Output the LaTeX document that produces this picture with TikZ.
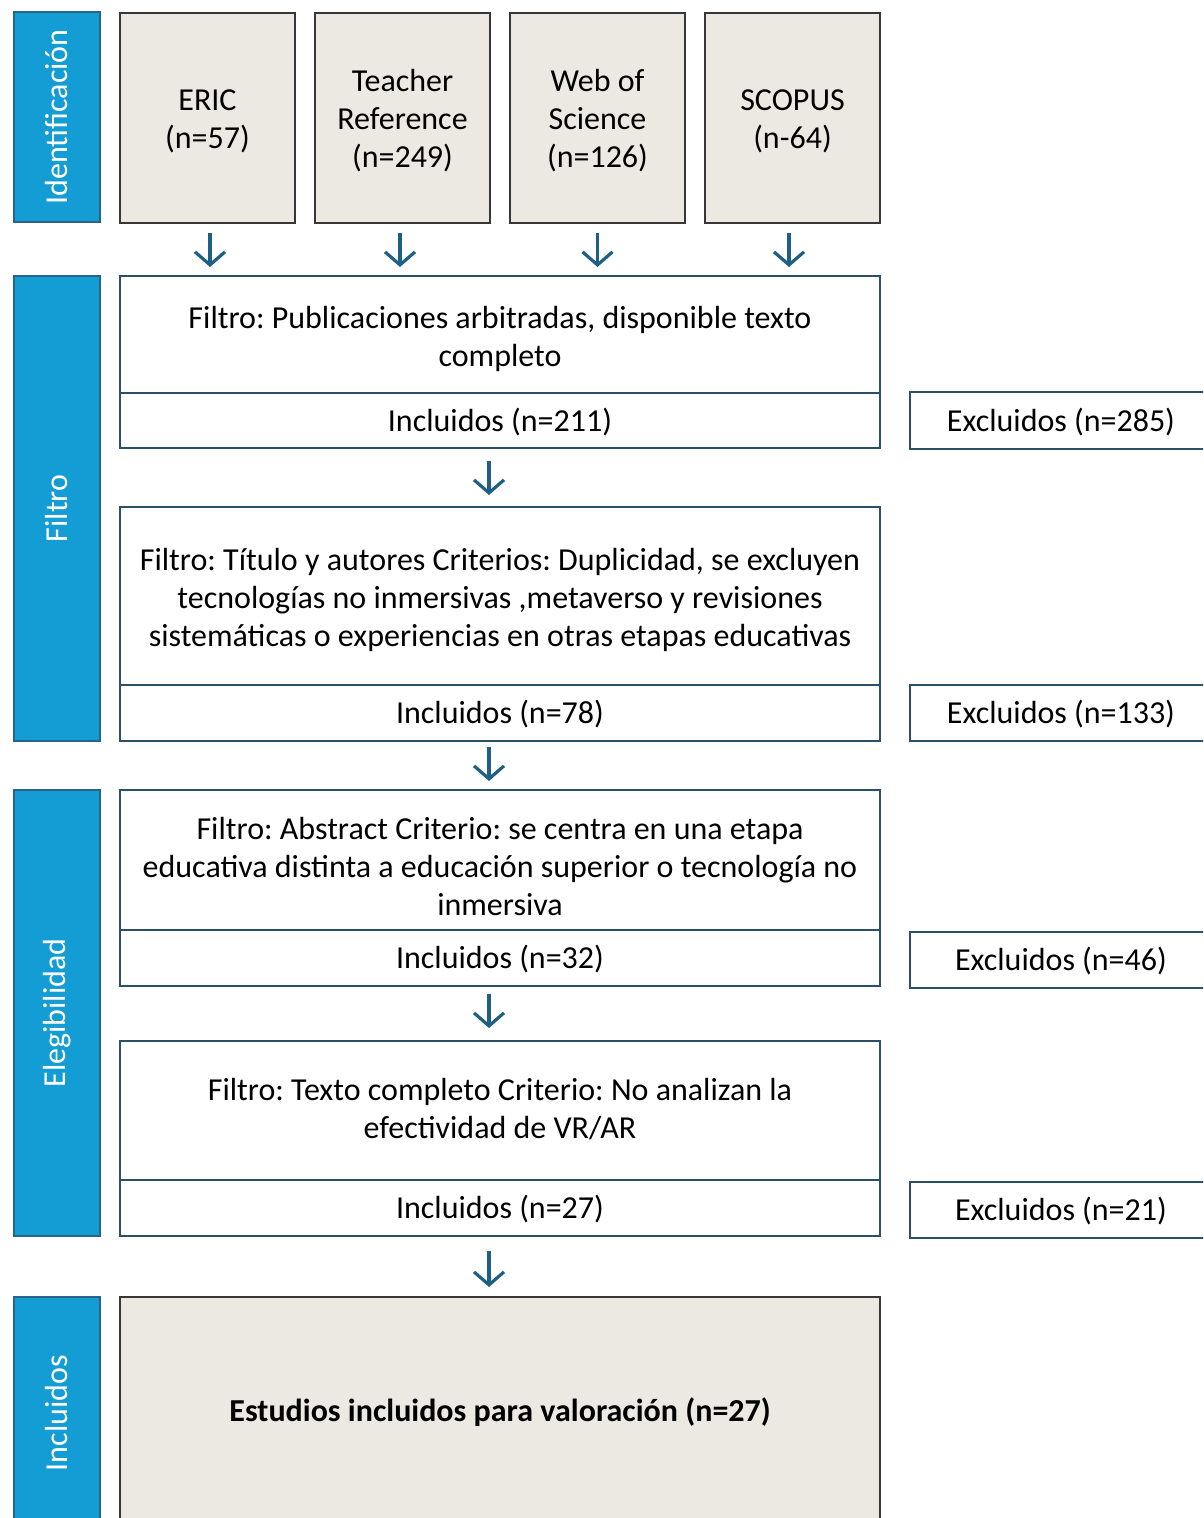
\documentclass[tikz,border=0pt]{standalone}
\usepackage{fontspec}
\setmainfont{Carlito}
\usetikzlibrary{arrows.meta}

\definecolor{azulfase}{RGB}{20,157,212}
\definecolor{bordefase}{RGB}{40,100,135}
\definecolor{fondofuente}{RGB}{236,233,226}
\definecolor{bordefuente}{RGB}{55,55,55}
\definecolor{bordecaja}{RGB}{45,80,105}
\definecolor{azulflecha}{RGB}{30,95,132}

% texto centrado y bajado un poco dentro de su caja
\newcommand{\bajar}[2][1.5pt]{\raisebox{-#1}[\height][\depth]{\begin{tabular}{@{}c@{}}#2\end{tabular}}}

\tikzset{
  fase/.style={rotate=90, fill=azulfase, draw=bordefase, line width=1pt,
    text=white, minimum height=43pt, inner sep=0pt},
  fuente/.style={fill=fondofuente, draw=bordefuente, line width=1pt,
    minimum width=87.5pt, minimum height=105pt, inner sep=0pt},
  caja/.style={fill=white, draw=bordecaja, line width=1pt,
    minimum width=380pt, inner sep=0pt},
  excl/.style={fill=white, draw=bordecaja, line width=1pt,
    minimum width=151pt, minimum height=28pt, inner sep=0pt},
  flecha/.style={draw=azulflecha, line width=1.6pt,
    -{Straight Barb[length=6.5pt,width=15pt,line width=1.6pt]}},
}

\begin{document}
\frenchspacing
\fontsize{16}{19}\selectfont
\begin{tikzpicture}[x=0.5pt,y=-0.5pt]
\useasboundingbox (0,0) rectangle (1203,1518);
\clip (0,0) rectangle (1203,1518);

% fases a la izquierda
\node[fase, minimum width=105pt]   (idf)  at (57,117)    {Identificación};
\node[fase, minimum width=232.5pt] (filt) at (57,508.5)  {Filtro};
\node[fase, minimum width=223pt]   (eleg) at (57,1013)   {Elegibilidad};
\node[fase, minimum width=116pt]   (incl) at (57,1413)   {Incluidos};

% bases de datos
\node[fuente] (eric)   at (207.5,118.5) {\bajar{ERIC\\(n=57)}};
\node[fuente] (teach)  at (402.5,118.5) {\bajar{Teacher\\Reference\\(n=249)}};
\node[fuente] (wos)    at (597.5,118.5) {\bajar{Web of\\Science\\(n=126)}};
\node[fuente] (scopus) at (792.5,118.5) {\bajar{SCOPUS\\(n-64)}};

% filtros
\node[caja, minimum height=58.5pt] (f1) at (500,334.5)
  {\bajar[2.5pt]{Filtro: Publicaciones arbitradas, disponible texto\\completo}};
\node[caja, minimum height=27.5pt] (i1) at (500,420.5) {\bajar{Incluidos (n=211)}};

\node[caja, minimum height=89pt] (f2) at (500,596)
  {\bajar[2.25pt]{Filtro: Título y autores Criterios: Duplicidad, se excluyen\\
   tecnologías no inmersivas ,metaverso y revisiones\\
   sistemáticas o experiencias en otras etapas educativas}};
\node[caja, minimum height=28pt] (i2) at (500,713) {\bajar{Incluidos (n=78)}};

\node[caja, minimum height=70pt] (f3) at (500,860)
  {\bajar[5pt]{Filtro: Abstract Criterio: se centra en una etapa\\
   educativa distinta a educación superior o tecnología no\\inmersiva}};
\node[caja, minimum height=28pt] (i3) at (500,958) {\bajar{Incluidos (n=32)}};

\node[caja, minimum height=69.5pt] (f4) at (500,1110.5)
  {\bajar[0.5pt]{Filtro: Texto completo Criterio: No analizan la\\efectividad de VR/AR}};
\node[caja, minimum height=28pt] (i4) at (500,1208) {\bajar{Incluidos (n=27)}};

\node[caja, fill=fondofuente, draw=bordefuente, minimum height=113pt] (fin) at (500,1410)
  {\bajar[2pt]{\textbf{Estudios incluidos para valoración (n=27)}}};

% excluidos
\node[excl] (e1) at (1061,420.5) {\bajar{Excluidos (n=285)}};
\node[excl] (e2) at (1061,713)   {\bajar{Excluidos (n=133)}};
\node[excl] (e3) at (1061,960)   {\bajar{Excluidos (n=46)}};
\node[excl] (e4) at (1061,1210)  {\bajar{Excluidos (n=21)}};

% flechas
\foreach \s/\dx in {eric/1.25,teach/-1.25,wos/0,scopus/-1.75}
  \draw[flecha, shorten <=4.5pt, shorten >=4pt] ([xshift=\dx pt]\s.south) -- ([xshift=\dx pt]\s.south |- f1.north);
\draw[flecha, shorten <=6pt,   shorten >=5.5pt] ([xshift=-5.5pt]i1.south) -- ([xshift=-5.5pt]f2.north);
\draw[flecha, shorten <=2.5pt, shorten >=4pt]   ([xshift=-5.5pt]i2.south) -- ([xshift=-5.5pt]f3.north);
\draw[flecha, shorten <=3.5pt, shorten >=6pt]   ([xshift=-5.5pt]i3.south) -- ([xshift=-5.5pt]f4.north);
\draw[flecha, shorten <=7pt,   shorten >=4.5pt] ([xshift=-5.5pt]i4.south) -- ([xshift=-5.5pt]fin.north);
\end{tikzpicture}
\end{document}
